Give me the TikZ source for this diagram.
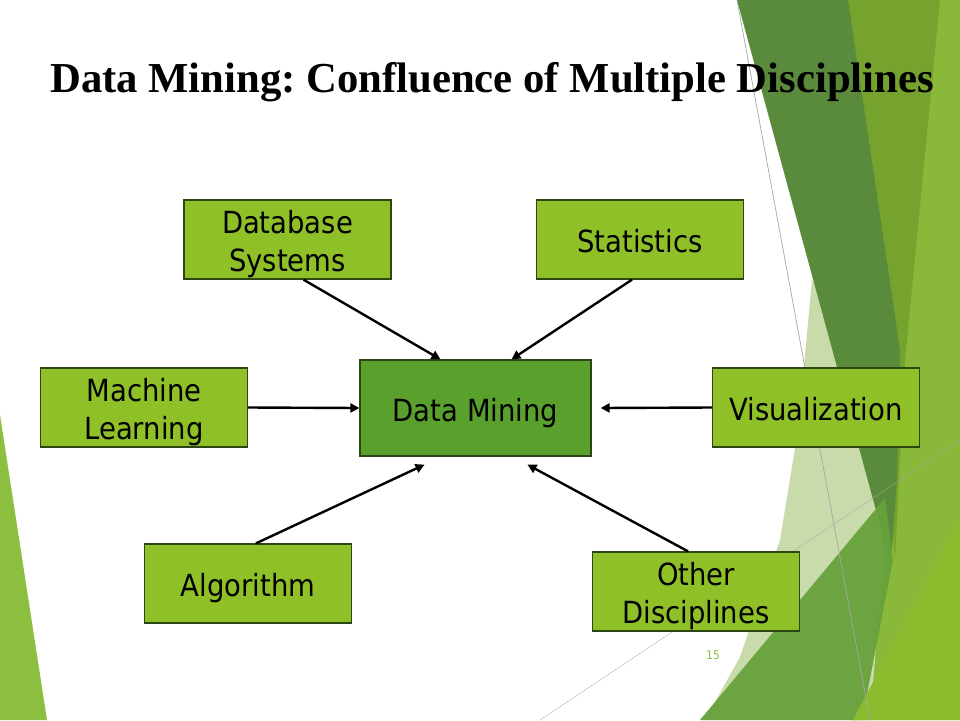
\documentclass[tikz,border=0pt]{standalone}
\usepackage{fontspec}
\setmainfont{DejaVu Sans Condensed}
\newfontfamily\titlefont{Liberation Serif}
\usetikzlibrary{arrows.meta,calc}
\frenchspacing
\definecolor{bgbase}{RGB}{138,184,58}
\definecolor{bgolive}{RGB}{118,163,45}
\definecolor{bgdark}{RGB}{90,138,60}
\definecolor{bgpale}{RGB}{201,219,170}
\definecolor{bggreen}{RGB}{102,162,59}
\definecolor{bgyellow}{RGB}{141,187,46}
\definecolor{bgleft}{RGB}{140,191,63}
\definecolor{boxfill}{RGB}{143,192,40}
\definecolor{dmfill}{RGB}{90,160,45}
\definecolor{boxline}{RGB}{45,70,20}
\definecolor{pagenum}{RGB}{140,191,63}
\newcommand\boxtext[1]{\raisebox{0pt}[\dimexpr\height+5.5pt\relax][\dimexpr\depth-5.5pt\relax]{\begin{tabular}{@{}c@{}}#1\end{tabular}}}
\tikzset{
  disc/.style={draw=boxline, line width=1.3pt, fill=boxfill, minimum width=207pt, minimum height=79pt, inner sep=0pt, align=center, font=\fontsize{30.5}{38}\selectfont},
  core/.style={disc, fill=dmfill, minimum width=231pt, minimum height=96pt},
  arr/.style={line width=2.4pt, -{Triangle[length=9pt,width=9pt]}},
  thinline/.style={draw=gray!70, line width=0.7pt}
}
\begin{document}
\begin{tikzpicture}[x=1pt,y=-1pt]
\useasboundingbox (0,0) rectangle (960,720);
\fill[white] (0,0) rectangle (960,720);
% background decoration
\fill[bgbase] (848,0) -- (960,0) -- (960,720) -- (850,720) -- cycle;
\fill[bgolive] (848,0) -- (940,0) -- (905,360) -- (895,560) -- cycle;
\fill[bgpale] (812,280) -- (830,300) -- (885,540) -- (870,720) -- (705,720) -- (740,657) -- (780,540) -- (798,430) -- cycle;
\fill[bgdark] (737,0) -- (848,0) -- (900,350) -- (897,480) -- (890,575) -- (880,525) -- cycle;
\fill[bggreen, opacity=0.95] (700,720) -- (885,498) -- (893,560) -- (862,720) -- cycle;
\fill[bgyellow] (853,720) -- (960,517) -- (960,720) -- cycle;
\draw[thinline] (737,0) -- (870,720);
\draw[thinline, opacity=0.6] (540,720) -- (960,440);
\fill[bgleft] (0,415) -- (47,720) -- (0,720) -- cycle;
% title
\node[anchor=base west, inner sep=0pt, font=\titlefont\bfseries\fontsize{42.7}{48}\selectfont] (title) at (50,92) {Data Mining: Confluence of Multiple Disciplines};
% nodes
\node[core] (dm) at (475.5,408) {\boxtext{Data Mining}};
\node[disc] (db) at (287.5,239.5) {\boxtext{Database\\ Systems}};
\node[disc] (st) at (640,239.5) {\boxtext{Statistics}};
\node[disc] (ml) at (144,407.5) {\boxtext{Machine\\Learning}};
\node[disc] (vis) at (816,407.5) {\boxtext{Visualization}};
\node[disc] (alg) at (248,583.5) {\boxtext{Algorithm}};
\node[disc] (od) at (696,591.5) {\boxtext{Other\\Disciplines}};
% arrows
\draw[arr] ([xshift=16pt]db.south) -- ([xshift=-35pt]dm.north);
\draw[arr] ([xshift=-8pt]st.south) -- ([xshift=36pt]dm.north);
\draw[arr] (ml.east) -- (dm.west);
\draw[arr] (vis.west) -- ([xshift=9pt]dm.east);
\draw[arr] ([xshift=8pt]alg.north) -- ([xshift=-51pt,yshift=-8pt]dm.south);
\draw[arr] ([xshift=-8pt]od.north) -- ([xshift=52pt,yshift=-8pt]dm.south);
% page number
\node[text=pagenum, font=\fontsize{12}{14}\selectfont] (pg) at (713,655) {15};
\end{tikzpicture}
\end{document}
